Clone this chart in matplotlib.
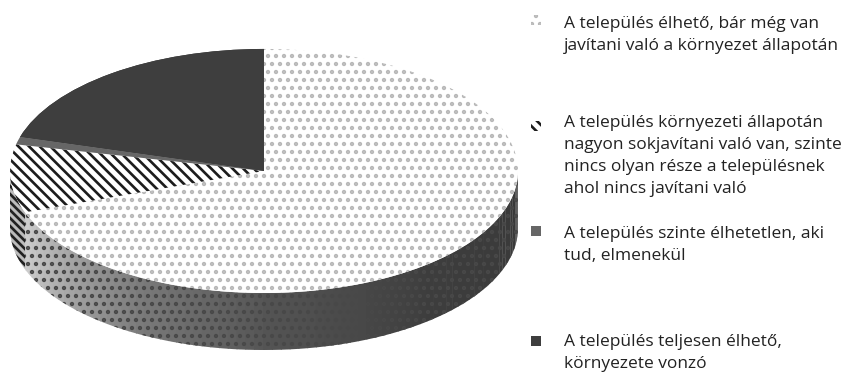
import matplotlib
matplotlib.use('Agg')
import matplotlib.pyplot as plt
from matplotlib.patches import Polygon, Rectangle
import numpy as np

plt.rcParams['font.family'] = ['Open Sans', 'DejaVu Sans']
plt.rcParams['hatch.linewidth'] = 2.0

labels = [
    'A település élhető, bár még van\njavítani való a környezet állapotán',
    'A település környezeti állapotán\nnagyon sokjavítani való van, szinte\nnincs olyan része a településnek\nahol nincs javítani való',
    'A település szinte élhetetlen, aki\ntud, elmenekül',
    'A település teljesen élhető,\nkörnyezete vonzó',
]
values = [69.5, 9, 1, 20.5]
face_colors = ['#ffffff', '#ffffff', '#666666', '#2e2e2e']
hatch_colors = ['#b8b8b8', '#1c1c1c', '#666666', '#3e3e3e']
hatches = ['..', '\\\\\\', '', 'xxxxxxxx']

# grey of the side wall along the front of the disc (angle, level)
wall_angles = [200, 215, 240, 270, 310, 360]
wall_greys = [0.80, 0.68, 0.48, 0.33, 0.24, 0.22]

W, H = 847, 373
cx, cy, rx, ry = 264, 171, 254, 122
depth = 57 / ry

fig = plt.figure(figsize=(W / 96, 3.886), dpi=96)
ax = fig.add_axes([0, 0, 1, 1])

wedges, _ = ax.pie(values, startangle=90, counterclock=False, radius=1,
                   center=(0, 0), wedgeprops={'linewidth': 0}, normalize=True)
for w, fc, hc, h in zip(wedges, face_colors, hatch_colors, hatches):
    w.set_facecolor(fc)
    w.set_edgecolor(hc)
    w.set_hatch(h)
    w.set_linewidth(0)
    w.set_zorder(3)

ax.set_aspect('auto')
ax.set_xlim(-cx / rx, (W - cx) / rx)
ax.set_ylim((cy - H) / ry, cy / ry)
ax.axis('off')


def wall(a0, a1):
    t = np.radians(np.linspace(a0, a1, max(int(abs(a1 - a0)) * 2, 2)))
    top = np.column_stack([np.cos(t), np.sin(t)])
    bottom = top[::-1] - [0, depth]
    return np.vstack([top, bottom])


# side of the disc: the dotted slice runs round the front
ends = 90 - np.cumsum([0] + values) * 3.6
lo, hi = 360 + ends[1], 360
for a in np.arange(lo, hi, 2.0):
    g = np.interp(a, wall_angles, wall_greys)
    ax.add_patch(Polygon(wall(a, min(a + 2.2, hi)), closed=True, fc=(g, g, g), lw=0, zorder=1))
ax.add_patch(Polygon(wall(lo, hi), closed=True, fc='none', ec='#484848', hatch='..', lw=0, zorder=2))

# hatched slice carries on down the side at the far left
ax.add_patch(Polygon(wall(180, lo), closed=True, fc='#bbbbbb', ec='#222222', hatch='\\\\\\\\', lw=0, zorder=1))

# legend
swatch_y = [20, 126, 231, 341]
text_y = [16, 115, 226, 334]
for i, label in enumerate(labels):
    fig.text(564 / W, 1 - text_y[i] / H, label, fontsize=13, color='#222222',
             va='top', ha='left', linespacing=1.5)
    fig.add_artist(Rectangle((531 / W, 1 - (swatch_y[i] + 5) / H), 10 / W, 10 / H,
                             transform=fig.transFigure, fc=face_colors[i],
                             ec=hatch_colors[i], hatch=hatches[i], lw=0))

fig.savefig('out.png', dpi=96)
